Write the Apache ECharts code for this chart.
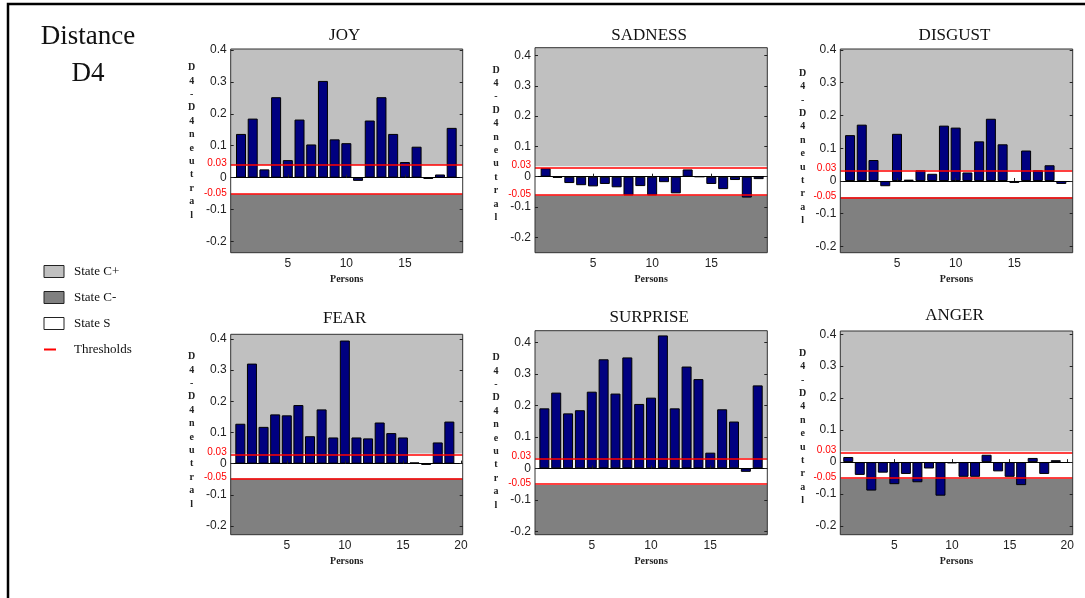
<!DOCTYPE html>
<html>
<head>
<meta charset="utf-8">
<script src="https://cdn.jsdelivr.net/npm/echarts@6/dist/echarts.min.js"></script>
<style>
html,body{margin:0;padding:0;background:#fff;}
#chart{width:1085px;height:598px;}
</style>
</head>
<body>
<div id="chart"></div>
<script>
// ---- data ----
const persons = [1,2,3,4,5,6,7,8,9,10,11,12,13,14,15,16,17,18,19];
const joy      = [0.137,0.185,0.026,0.252,0.055,0.182,0.104,0.303,0.120,0.108,-0.010,0.179,0.252,0.137,0.049,0.097,-0.004,0.010,0.156];
const sadness  = [0.028,-0.004,-0.021,-0.028,-0.032,-0.024,-0.035,-0.062,-0.031,-0.062,-0.018,-0.055,0.024,0.000,-0.024,-0.041,-0.011,-0.069,-0.008];
const disgust  = [0.140,0.172,0.064,-0.016,0.144,0.004,0.033,0.022,0.169,0.163,0.026,0.121,0.190,0.112,-0.006,0.093,0.033,0.048,-0.009];
const fear     = [0.128,0.321,0.118,0.158,0.155,0.188,0.088,0.174,0.084,0.395,0.084,0.081,0.132,0.098,0.084,0.004,-0.004,0.068,0.135];
const surprise = [0.191,0.241,0.175,0.185,0.244,0.347,0.238,0.353,0.205,0.225,0.423,0.191,0.324,0.284,0.050,0.188,0.149,-0.011,0.264];
const anger    = [0.016,-0.040,-0.089,-0.033,-0.069,-0.037,-0.063,-0.020,-0.105,-0.004,-0.046,-0.046,0.023,-0.029,-0.046,-0.072,0.013,-0.037,0.006];

const emotions = ['JOY','SADNESS','DISGUST','FEAR','SURPRISE','ANGER'];
const upperThresholds = [0.039, 0.034, 0.033, 0.032, 0.033, 0.033];
const lowerThresholds = [-0.052, -0.062, -0.050, -0.048, -0.053, -0.052];
const thresholdLabels = ['0.03', '-0.05'];
const yTicks = [-0.2,-0.1,0,0.1,0.2,0.3,0.4];
const yTickLabels = ['-0.2','-0.1','0','0.1','0.2','0.3','0.4'];
const xTicksShort = [5,10,15];
const xTicksLong = [5,10,15,20];
const legendNames = ['State C+','State C-','State S','Thresholds'];
const mainTitle = 'Distance\nD4';
const yName = 'D4-D4neutral';
const xName = 'Persons';

// ---- layout (positions / styles) ----
const panels = [
  {values: joy,      grid:{left:230.7, top:49,    width:232,   height:203.7}, x:[0.12,19.94], y:[-0.235,0.403], xt:xTicksShort, tTop:27.2, nx:191.7, ny:61},
  {values: sadness,  grid:{left:535,   top:47.7,  width:232.3, height:205},   x:[0.10,19.73], y:[-0.251,0.426], xt:xTicksShort, tTop:27.2, nx:496,   ny:63.3},
  {values: disgust,  grid:{left:840.3, top:49,    width:232.4, height:203.7}, x:[0.17,19.97], y:[-0.219,0.403], xt:xTicksShort, tTop:27.5, nx:802.7, ny:66.6},
  {values: fear,     grid:{left:230.7, top:334.3, width:232,   height:200.4}, x:[0.17,20.15], y:[-0.228,0.415], xt:xTicksLong,  tTop:309.8,nx:191.7, ny:350},
  {values: surprise, grid:{left:535,   top:330.7, width:232.3, height:204},   x:[0.21,19.81], y:[-0.211,0.438], xt:xTicksShort, tTop:308.8,nx:496,   ny:351},
  {values: anger,    grid:{left:840.3, top:331,   width:232.4, height:203.7}, x:[0.31,20.47], y:[-0.227,0.410], xt:xTicksLong,  tTop:307.5,nx:802.7, ny:346.6}
];

const SERIF = '"Liberation Serif","DejaVu Serif",serif';
const SANS = '"Liberation Sans",Arial,sans-serif';
const LIGHT = '#c0c0c0', DARK = '#808080';

const grids = [], xAxes = [], yAxes = [], series = [], titles = [];
titles.push({text: mainTitle, left: 88, top: 18.5, textAlign: 'center', padding: 0,
  textStyle: {fontFamily: SERIF, fontSize: 27, fontWeight: 'normal', lineHeight: 37, color: '#111'}});

panels.forEach((p, i) => {
  grids.push(Object.assign({show: true, borderColor: '#333', borderWidth: 1, backgroundColor: 'transparent', z: 6}, p.grid));
  titles.push({text: emotions[i], left: p.grid.left + p.grid.width / 2 - 2, top: p.tTop, textAlign: 'center', padding: 0,
    textStyle: {fontFamily: SERIF, fontSize: 17, fontWeight: 'normal', color: '#111'}});
  // stacked y-axis caption "D4-D4neutral"
  titles.push({text: yName.split('').join('\n'), left: p.nx, top: p.ny, textAlign: 'center', padding: 0,
    textStyle: {fontFamily: SERIF, fontSize: 10, fontWeight: 'bold', lineHeight: 13.4, color: '#222'}});
  xAxes.push({
    type: 'value', gridIndex: i, min: p.x[0], max: p.x[1], z: 6,
    name: xName, nameLocation: 'middle', nameGap: 22,
    nameTextStyle: {fontFamily: SERIF, fontWeight: 'bold', fontSize: 10, color: '#222'},
    axisLine: {show: false}, splitLine: {show: false},
    axisTick: {show: true, inside: true, length: 3, customValues: p.xt, lineStyle: {color: '#222'}},
    axisLabel: {customValues: p.xt, margin: 5, fontFamily: SANS, fontSize: 12, color: '#222'}
  });
  const up = upperThresholds[i], lo = lowerThresholds[i];
  yAxes.push({
    type: 'value', gridIndex: i, min: p.y[0], max: p.y[1], z: 6, position: 'left',
    axisLine: {show: false}, splitLine: {show: false},
    axisTick: {show: true, inside: true, length: 3, customValues: yTicks, lineStyle: {color: '#222'}},
    axisLabel: {
      customValues: yTicks.concat([up, lo]), margin: 4, fontFamily: SANS, fontSize: 12, color: '#222',
      formatter: function (v) {
        if (v === up) return '{r|' + thresholdLabels[0] + '}';
        if (v === lo) return '{r|' + thresholdLabels[1] + '}';
        const k = yTicks.indexOf(v);
        return k >= 0 ? yTickLabels[k] : '';
      },
      rich: {r: {color: '#ff0000', fontFamily: SANS, fontSize: 10, padding: [0, 0, 3, 0]}}
    }
  });
  yAxes.push({
    type: 'value', gridIndex: i, min: p.y[0], max: p.y[1], z: 6, position: 'right',
    axisLine: {show: false}, splitLine: {show: false}, axisLabel: {show: false},
    axisTick: {show: true, inside: true, length: 3, customValues: yTicks, lineStyle: {color: '#222'}}
  });
  series.push({
    type: 'bar', name: emotions[i], xAxisIndex: i, yAxisIndex: i * 2,
    data: persons.map((x, k) => [x, p.values[k]]),
    barWidth: 10, silent: true,
    itemStyle: {color: '#000080', borderColor: '#000', borderWidth: 1},
    markArea: {
      silent: true,
      data: [
        [{yAxis: up, itemStyle: {color: LIGHT}}, {yAxis: p.y[1]}],
        [{yAxis: lo, itemStyle: {color: '#ffffff'}}, {yAxis: up}],
        [{yAxis: p.y[0], itemStyle: {color: DARK}}, {yAxis: lo}]
      ]
    },
    markLine: {
      silent: true, symbol: 'none', label: {show: false}, animation: false,
      data: [
        {yAxis: 0, lineStyle: {color: '#000', width: 1, type: 'solid'}},
        {yAxis: up, lineStyle: {color: '#ff0000', width: 1.5, type: 'solid'}},
        {yAxis: lo, lineStyle: {color: '#ff0000', width: 1.5, type: 'solid'}}
      ]
    }
  });
});

// legend helper series (no data)
series.push({type: 'line', name: legendNames[0], data: [], xAxisIndex: 0, yAxisIndex: 0, itemStyle: {color: LIGHT}});
series.push({type: 'line', name: legendNames[1], data: [], xAxisIndex: 0, yAxisIndex: 0, itemStyle: {color: DARK}});
series.push({type: 'line', name: legendNames[2], data: [], xAxisIndex: 0, yAxisIndex: 0, itemStyle: {color: '#fff'}});
series.push({type: 'line', name: legendNames[3], data: [], xAxisIndex: 0, yAxisIndex: 0, symbol: 'none',
  lineStyle: {color: '#ff0000', width: 2}, itemStyle: {color: '#ff0000'}});

const lineIcon = 'path://M0,0 L0.01,0 L0,0.01 Z M0,5 L12,5 L12,7 L0,7 Z M20,12 L19.99,12 L20,11.99 Z';

const chart = echarts.init(document.getElementById('chart'), null, {renderer: 'canvas'});
chart.setOption({
  animation: false,
  backgroundColor: '#ffffff',
  title: titles,
  grid: grids,
  xAxis: xAxes,
  yAxis: yAxes,
  legend: {
    orient: 'vertical', left: 43.5, top: 265, padding: 0, itemWidth: 20, itemHeight: 12, itemGap: 13,
    selectedMode: false,
    textStyle: {fontFamily: SERIF, fontSize: 13, color: '#111', padding: [0, 0, 0, 5]},
    data: [
      {name: legendNames[0], icon: 'rect', itemStyle: {color: LIGHT, borderColor: '#222', borderWidth: 1}},
      {name: legendNames[1], icon: 'rect', itemStyle: {color: DARK, borderColor: '#222', borderWidth: 1}},
      {name: legendNames[2], icon: 'rect', itemStyle: {color: '#fff', borderColor: '#222', borderWidth: 1}},
      {name: legendNames[3], icon: lineIcon, itemStyle: {color: '#ff0000', borderWidth: 0}}
    ]
  },
  graphic: [{type: 'rect', silent: true, shape: {x: 8, y: 4, width: 1200, height: 700},
    style: {fill: 'none', stroke: '#000', lineWidth: 2.5}}],
  series: series
});
</script>
</body>
</html>
